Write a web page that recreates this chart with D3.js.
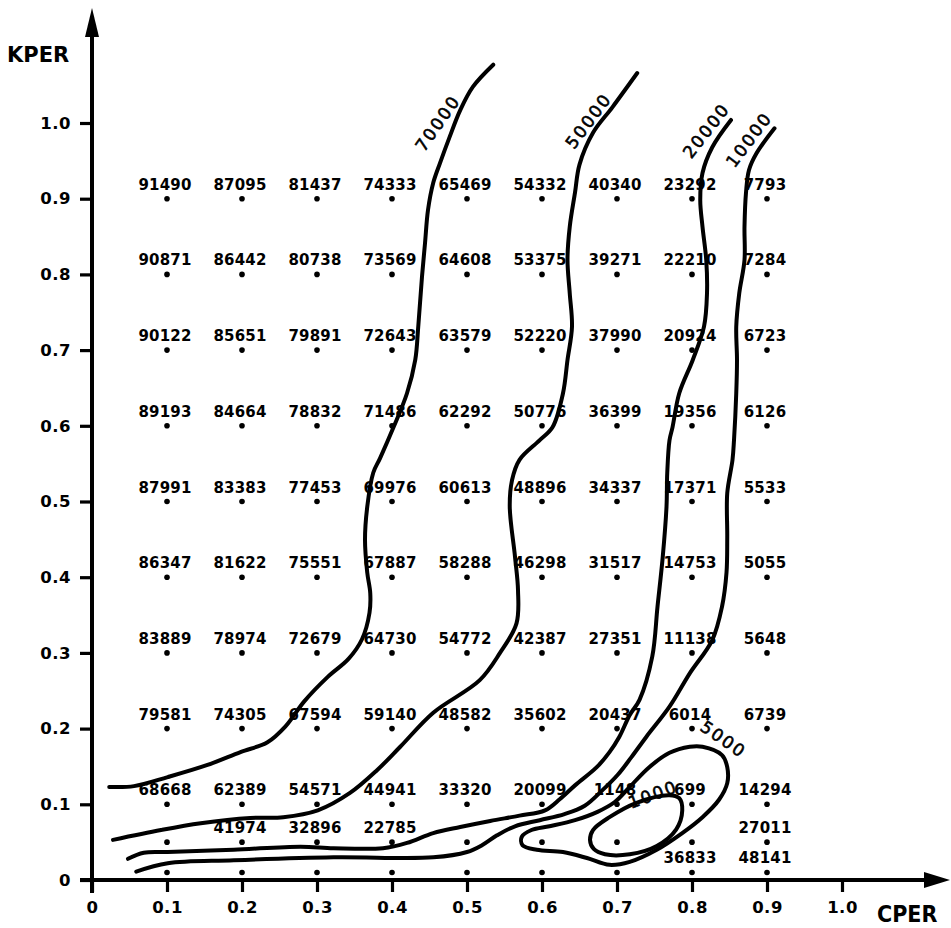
<!DOCTYPE html>
<html lang="en">
<head>
  <meta charset="UTF-8" />
  <title>KPER / CPER</title>
  <script src="https://d3js.org/d3.v7.min.js"></script>
  <style>
    body { margin: 0; background: #fff; }
    svg { display: block; }
    .val { font-family: "DejaVu Sans", sans-serif; font-weight: bold; font-size: 15px; letter-spacing: 0.2px; }
    .tick text { font-family: "DejaVu Sans", sans-serif; font-weight: bold; font-size: 16.5px; letter-spacing: 0.5px; fill: #000; }
    .lvl { font-family: "DejaVu Sans", sans-serif; font-size: 17px; letter-spacing: 2px; stroke: #000; stroke-width: 0.6px; }
    .title { font-family: "DejaVu Sans", sans-serif; font-weight: bold; }
  </style>
</head>
<body>
  <svg width="951" height="928"></svg>

  <script>
    // grid of computed points
    const cperCols = [0.1, 0.2, 0.3, 0.4, 0.5, 0.6, 0.7, 0.8, 0.9];
    const kperRows = [0.9, 0.8, 0.7, 0.6, 0.5, 0.4, 0.3, 0.2, 0.1, 0.05, 0.01];
    const gridValues = [
      [91490, 87095, 81437, 74333, 65469, 54332, 40340, 23292, 7793],
      [90871, 86442, 80738, 73569, 64608, 53375, 39271, 22210, 7284],
      [90122, 85651, 79891, 72643, 63579, 52220, 37990, 20924, 6723],
      [89193, 84664, 78832, 71486, 62292, 50776, 36399, 19356, 6126],
      [87991, 83383, 77453, 69976, 60613, 48896, 34337, 17371, 5533],
      [86347, 81622, 75551, 67887, 58288, 46298, 31517, 14753, 5055],
      [83889, 78974, 72679, 64730, 54772, 42387, 27351, 11138, 5648],
      [79581, 74305, 67594, 59140, 48582, 35602, 20437, 6014, 6739],
      [68668, 62389, 54571, 44941, 33320, 20099, 1148, 699, 14294],
      [null, 41974, 32896, 22785, null, null, null, null, 27011],
      [null, null, null, null, null, null, null, 36833, 48141]
    ];

    // contour lines, [CPER, KPER]
    const contour70000 = [
      [0.023, 0.123], [0.056, 0.124], [0.101, 0.136], [0.154, 0.152], [0.198, 0.169],
      [0.234, 0.182], [0.258, 0.203], [0.283, 0.236], [0.314, 0.268], [0.342, 0.292],
      [0.360, 0.318], [0.370, 0.353], [0.371, 0.379], [0.367, 0.406], [0.364, 0.449],
      [0.367, 0.493], [0.375, 0.538], [0.384, 0.557], [0.402, 0.598], [0.420, 0.643],
      [0.431, 0.687], [0.435, 0.731], [0.440, 0.797], [0.444, 0.841], [0.448, 0.885],
      [0.455, 0.921], [0.464, 0.947], [0.477, 0.982], [0.491, 1.017], [0.508, 1.048],
      [0.535, 1.077]
    ];
    const contour50000 = [
      [0.028, 0.053], [0.092, 0.066], [0.145, 0.075], [0.211, 0.082], [0.255, 0.083],
      [0.301, 0.092], [0.344, 0.115], [0.380, 0.145], [0.411, 0.176], [0.455, 0.221],
      [0.517, 0.264], [0.544, 0.300], [0.566, 0.339], [0.568, 0.383], [0.564, 0.427],
      [0.557, 0.493], [0.560, 0.528], [0.570, 0.555], [0.597, 0.581], [0.614, 0.598],
      [0.628, 0.643], [0.634, 0.687], [0.640, 0.731], [0.637, 0.775], [0.634, 0.819],
      [0.637, 0.863], [0.644, 0.908], [0.650, 0.945], [0.668, 0.987], [0.694, 1.021],
      [0.727, 1.066]
    ];
    const contour20000 = [
      [0.048, 0.028], [0.069, 0.036], [0.101, 0.037], [0.189, 0.040], [0.278, 0.044],
      [0.322, 0.042], [0.388, 0.042], [0.420, 0.049], [0.455, 0.062], [0.491, 0.070],
      [0.531, 0.078], [0.570, 0.085], [0.604, 0.092], [0.624, 0.107], [0.644, 0.125],
      [0.673, 0.149], [0.690, 0.169], [0.703, 0.189], [0.717, 0.218], [0.730, 0.238],
      [0.747, 0.295], [0.754, 0.361], [0.761, 0.427], [0.766, 0.493], [0.767, 0.538],
      [0.770, 0.581], [0.774, 0.598], [0.783, 0.643], [0.801, 0.687], [0.816, 0.731],
      [0.820, 0.775], [0.819, 0.819], [0.814, 0.863], [0.811, 0.898], [0.814, 0.934],
      [0.827, 0.968], [0.852, 1.004]
    ];
    const contour10000 = [
      [0.059, 0.011], [0.101, 0.022], [0.189, 0.026], [0.322, 0.030], [0.455, 0.030],
      [0.500, 0.037], [0.520, 0.046], [0.540, 0.059], [0.564, 0.071], [0.597, 0.079],
      [0.630, 0.087], [0.657, 0.098], [0.681, 0.119], [0.701, 0.139], [0.719, 0.162],
      [0.739, 0.189], [0.770, 0.229], [0.797, 0.273], [0.827, 0.317], [0.840, 0.361],
      [0.846, 0.406], [0.847, 0.453], [0.847, 0.511], [0.854, 0.555], [0.856, 0.581],
      [0.859, 0.643], [0.860, 0.687], [0.859, 0.731], [0.863, 0.775], [0.870, 0.819],
      [0.870, 0.863], [0.872, 0.908], [0.876, 0.938], [0.886, 0.960], [0.910, 0.993]
    ];
    const contour5000 = [
      [0.814, 0.176], [0.840, 0.165], [0.847, 0.149], [0.847, 0.128], [0.836, 0.106],
      [0.814, 0.083], [0.787, 0.062], [0.753, 0.040], [0.717, 0.024], [0.690, 0.020],
      [0.660, 0.029], [0.628, 0.037], [0.593, 0.040], [0.574, 0.046], [0.573, 0.057],
      [0.586, 0.066], [0.610, 0.071], [0.644, 0.079], [0.674, 0.090], [0.697, 0.103],
      [0.717, 0.123], [0.743, 0.149], [0.770, 0.168], [0.797, 0.176]
    ];
    const contour1000 = [
      [0.664, 0.053], [0.669, 0.041], [0.684, 0.034], [0.717, 0.034], [0.753, 0.045],
      [0.779, 0.067], [0.787, 0.092], [0.783, 0.108], [0.770, 0.112], [0.726, 0.102],
      [0.690, 0.083], [0.668, 0.066]
    ];

    const contourLevels = [70000, 50000, 20000, 10000, 5000, 1000];
    const contourPoints = [contour70000, contour50000, contour20000, contour10000, contour5000, contour1000];
    const contourClosed = [false, false, false, false, true, true];
    // where the level numbers are written
    const labelCper = [0.461, 0.662, 0.819, 0.876, 0.842, 0.748];
    const labelKper = [1.000, 1.003, 0.990, 0.978, 0.186, 0.113];

    const axisTicks = [0, 0.1, 0.2, 0.3, 0.4, 0.5, 0.6, 0.7, 0.8, 0.9, 1.0];

    const W = 951, H = 928;
    const svg = d3.select("svg");
    const x = d3.scaleLinear().domain([0, 1]).range([92, 842]);
    const y = d3.scaleLinear().domain([0, 1]).range([880, 123]);
    const labelAngle = [-55, -53, -52, -53, 35, -20];

    // axes
    const yAx = svg.append("g")
      .attr("transform", `translate(${x(0)},0)`)
      .call(d3.axisLeft(y).tickValues(axisTicks).tickSize(12).tickPadding(9)
        .tickFormat(d => d === 0 ? "0" : d.toFixed(1)));
    const xAx = svg.append("g")
      .attr("transform", `translate(0,${y(0)})`)
      .call(d3.axisBottom(x).tickValues(axisTicks).tickSize(12).tickPadding(9)
        .tickFormat(d => d === 0 ? "0" : d.toFixed(1)));
    [yAx, xAx].forEach(g => {
      g.select(".domain").remove();
      g.selectAll(".tick line").attr("stroke", "#000").attr("stroke-width", 3.2);
    });

    svg.append("line")
      .attr("x1", x(0)).attr("x2", x(0))
      .attr("y1", y(0) + 13).attr("y2", 34)
      .attr("stroke", "#000").attr("stroke-width", 4);
    svg.append("path")
      .attr("d", `M${x(0)},8 L${x(0) - 7},37 L${x(0) + 7},37 Z`);
    svg.append("line")
      .attr("x1", x(0) - 12).attr("x2", W - 25)
      .attr("y1", y(0)).attr("y2", y(0))
      .attr("stroke", "#000").attr("stroke-width", 4);
    svg.append("path")
      .attr("d", `M${W - 1},${y(0)} L${W - 27},${y(0) - 8} L${W - 27},${y(0) + 8} Z`);

    svg.append("text").attr("class", "title")
      .attr("x", 7).attr("y", 62).attr("font-size", 21)
      .text("KPER");
    svg.append("text").attr("class", "title")
      .attr("x", 877).attr("y", 922).attr("font-size", 23)
      .style("font-family", "'DejaVu Sans Condensed', 'DejaVu Sans', sans-serif")
      .text("CPER");

    // points and values
    const cells = [];
    kperRows.forEach((k, i) => {
      cperCols.forEach((c, j) => {
        cells.push({ c: c, k: k, v: gridValues[i][j] });
      });
    });

    svg.selectAll("circle.pt")
      .data(cells)
      .enter()
      .append("circle")
      .attr("class", "pt")
      .attr("cx", d => x(d.c))
      .attr("cy", d => y(d.k))
      .attr("r", 2.8)
      .attr("fill", "#000");

    svg.selectAll("text.val")
      .data(cells.filter(d => d.v !== null))
      .enter()
      .append("text")
      .attr("class", "val")
      .attr("x", d => x(d.c) - 2)
      .attr("y", d => y(d.k) - 9)
      .attr("text-anchor", "middle")
      .text(d => d.v);

    // contours
    const openLine = d3.line().x(d => x(d[0])).y(d => y(d[1])).curve(d3.curveCatmullRom.alpha(0.5));
    const loopLine = d3.line().x(d => x(d[0])).y(d => y(d[1])).curve(d3.curveCatmullRomClosed.alpha(0.5));

    svg.selectAll("path.contour")
      .data(contourPoints)
      .enter()
      .append("path")
      .attr("class", "contour")
      .attr("d", (d, i) => contourClosed[i] ? loopLine(d) : openLine(d))
      .attr("fill", "none")
      .attr("stroke", "#000")
      .attr("stroke-width", 4)
      .attr("stroke-linecap", "round")
      .attr("stroke-linejoin", "round");

    svg.selectAll("text.lvl")
      .data(contourLevels)
      .enter()
      .append("text")
      .attr("class", "lvl")
      .attr("text-anchor", "middle")
      .attr("dy", "0.35em")
      .attr("font-size", (d, i) => i === 5 ? 15 : 17)
      .attr("transform", (d, i) => `translate(${x(labelCper[i])},${y(labelKper[i])}) rotate(${labelAngle[i]})`)
      .text(d => d);
  </script>
</body>
</html>
